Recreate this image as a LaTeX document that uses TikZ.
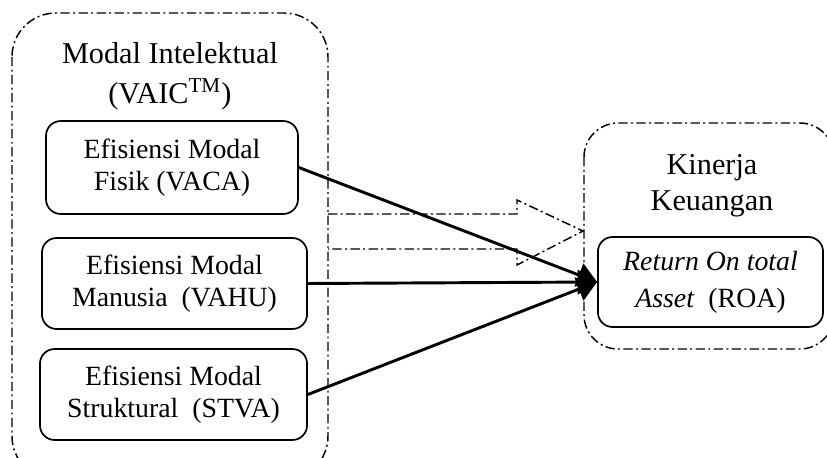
\documentclass[tikz,border=0pt]{standalone}
\usepackage{fontspec}
\setmainfont{Liberation Serif}
\usetikzlibrary{positioning}
\usetikzlibrary{arrows.meta}
\tikzset{
  dashdot/.style={line width=0.6pt, dash pattern=on 3.8pt off 1.4pt on 0.8pt off 1.4pt},
  efbox/.style={draw, line width=0.7pt, rounded corners=6pt, align=center, inner sep=0pt,
    font=\fontsize{11.4}{13.1}\selectfont},
  title/.style={align=center, inner sep=0pt},
  link/.style={line width=1.2pt, -{Triangle[length=8pt,width=10pt]}}
}

\begin{document}
\begin{tikzpicture}[x=0.41pt,y=-0.41pt]
        \useasboundingbox (0,0) rectangle (827,458);
        % kelompok variabel
        \draw [dashdot, rounded corners=18pt] (12,13) rectangle (328,480);
        \draw [dashdot, rounded corners=14pt] (584,123) rectangle (834,349);
        \node [title, font=\fontsize{12.4}{16.4}\selectfont] (inteltitle) at (170,76)
            {Modal Intelektual\\(VAIC\textsuperscript{TM})};
        \node [title, font=\fontsize{12.4}{14.8}\selectfont] (kinerjatitle) at (712,186)
            {Kinerja\\Keuangan};
        % variabel
        \node [efbox, minimum width=103.3pt, minimum height=38.1pt] (vaca) at (172,167.5)
            {Efisiensi Modal\\Fisik (VACA)};
        \node [efbox, minimum width=108.7pt, minimum height=37.3pt] (vahu) at (174.5,283.5)
            {Efisiensi Modal\\Manusia~ (VAHU)};
        \node [efbox, minimum width=109.5pt, minimum height=37.3pt] (stva) at (173.5,394.5)
            {Efisiensi Modal\\Struktural~ (STVA)};
        \node [efbox, minimum width=92.3pt, minimum height=36.9pt,
            font=\fontsize{11.4}{15.2}\selectfont] (roa) at (710.5,282)
            {\textit{Return On total}\\\textit{Asset}~ (ROA)};
        % panah simultan
        \draw [dashdot] (328,214) -- (517,214) -- (517,200) -- (583,231)
            -- (517,265) -- (517,249) -- (328,249);
        % panah parsial
        \draw [link] (vaca.east) -- (roa.west);
        \draw [link] (vahu.east) -- (roa.west);
        \draw [link] (stva.east) -- (roa.west);
    \end{tikzpicture}
\end{document}
